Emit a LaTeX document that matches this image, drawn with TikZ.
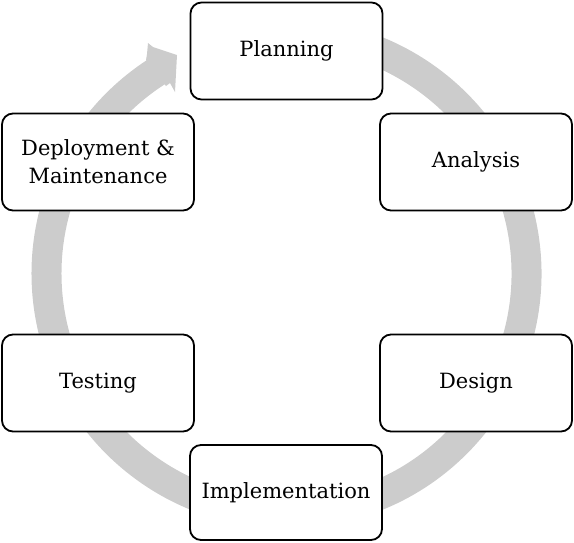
\documentclass[tikz,border=0pt]{standalone}
\usepackage{fontspec}
\setmainfont{DejaVu Serif}
\begin{document}
\begin{tikzpicture}[x=1pt,y=-1pt,
  stagebox/.style={draw=black, line width=1.8pt, rounded corners=11pt, fill=white,
    minimum width=192pt, minimum height=97pt, align=center, inner sep=2pt,
    font=\fontsize{21}{28}\selectfont},
  ringcol/.style={color=gray!40}]
\useasboundingbox (0,0) rectangle (574,542);
% circular arrow
\coordinate (ctr) at (286.5,273.5);
\draw[ringcol, line width=30pt] (ctr) ++(-100:240) arc[start angle=-100, end angle=240, radius=240];
\fill[ringcol] (147,54) -- (148,43) -- (153,47) -- (177,55) -- (175,92) -- (170,83) -- (166,86) -- (146,60) -- cycle;
% stages
\node[stagebox] (plan) at (286.5,51) {Planning};
\node[stagebox] (anal) at (476,162) {Analysis};
\node[stagebox] (design) at (476,383) {Design};
\node[stagebox, minimum height=95pt] (impl) at (286,492.5) {Implementation};
\node[stagebox] (test) at (98,383) {Testing};
\node[stagebox] (deploy) at (98,162) {Deployment \&\\Maintenance};
\end{tikzpicture}
\end{document}
